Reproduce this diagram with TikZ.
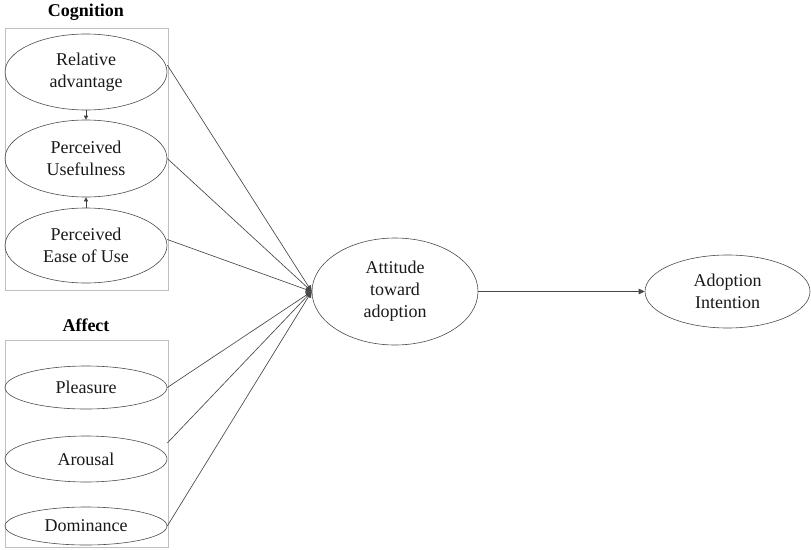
\documentclass[tikz,border=0pt]{standalone}
\usepackage{fontspec}
\setmainfont{Liberation Serif}
\usetikzlibrary{shapes.geometric,arrows.meta,calc}
\begin{document}
\begin{tikzpicture}[x=1pt,y=-1pt,
  txt/.style={font=\fontsize{18}{22}\selectfont, align=center, text=black!90},
  ttl/.style={font=\fontsize{18}{22}\selectfont\bfseries},
  ell/.style={ellipse, draw=black!70, line width=0.6pt, inner sep=0pt, txt},
  grp/.style={draw=black!25, line width=0.8pt, inner sep=0pt, minimum width=163pt},
  conn/.style={draw=black!72, line width=0.65pt, -{Triangle[length=6pt,width=5.5pt]}},
  small/.style={draw=black!75, line width=0.6pt, -{Triangle[length=4pt,width=4pt]}}]
\useasboundingbox (0,0) rectangle (811,549);
% groups
\node[ttl] (cogt) at (86,12) {Cognition};
\node[grp, minimum height=262pt] (cogbox) at (86.5,159) {};
\node[ttl] (afft) at (86,325) {Affect};
\node[grp, minimum height=207pt] (affbox) at (86.5,443.5) {};
% cognition ellipses
\node[ell, minimum width=162pt, minimum height=76pt] (rel) at (86,72) {Relative\\advantage};
\node[ell, minimum width=162pt, minimum height=77pt] (use) at (86,158.5) {Perceived\\Usefulness};
\node[ell, minimum width=162pt, minimum height=75pt] (ease) at (86,245.5) {Perceived\\Ease of Use};
% affect ellipses
\node[ell, minimum width=162pt, minimum height=43pt] (ple) at (86,387.5) {Pleasure};
\node[ell, minimum width=162pt, minimum height=46pt] (aro) at (86,459) {Arousal};
\node[ell, minimum width=162pt, minimum height=38pt] (dom) at (86,526) {Dominance};
% outcome ellipses
\node[ell, minimum width=166pt, minimum height=107pt] (att) at (395,291.5) {Attitude\\toward\\adoption};
\node[ell, minimum width=165pt, minimum height=73pt] (int) at (727.5,291.5) {Adoption\\Intention};
% small arrows
\draw[small] (rel.south) -- (use.north);
\draw[small] (ease.north) -- (use.south);
% connectors
\coordinate (hub) at (att.west);
\draw[conn] ($(rel.east)+(0,-7)$) -- (hub);
\draw[conn] (use.east) -- (hub);
\draw[conn] ($(ease.east)+(0,-6)$) -- (hub);
\draw[conn] (ple.east) -- (hub);
\draw[conn] ($(aro.east)+(0,-16)$) -- (hub);
\draw[conn] (dom.east) -- (hub);
\draw[conn] (att.east) -- (int.west);
\end{tikzpicture}
\end{document}
